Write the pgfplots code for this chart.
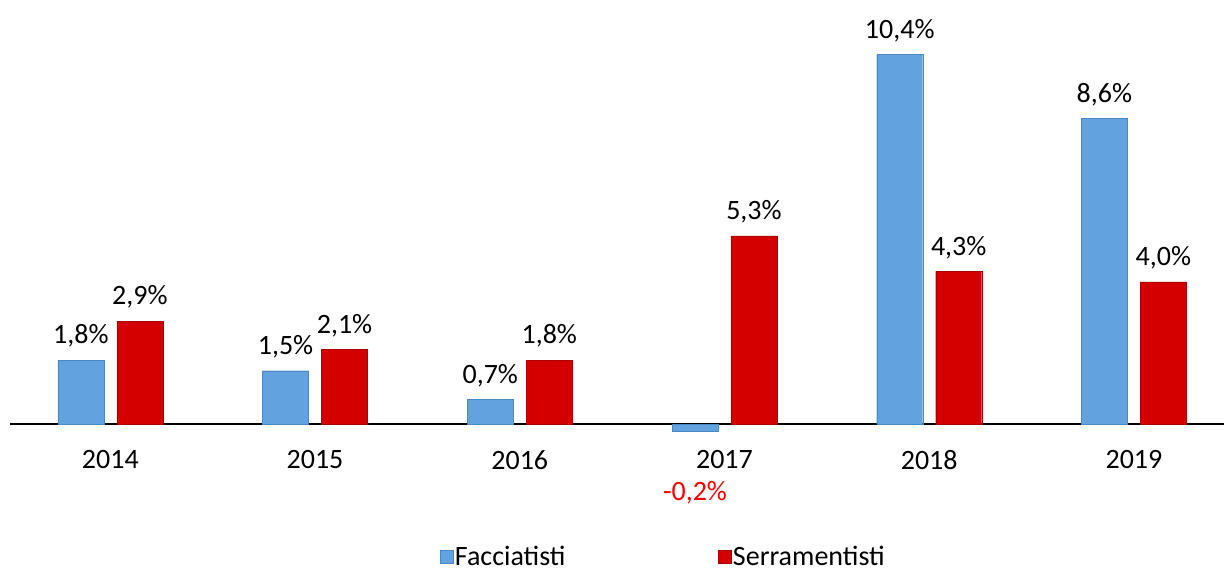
\documentclass[border=0pt]{standalone}
\usepackage{pgfplots}
\pgfplotsset{compat=1.18}
\usepackage{fontspec}
\setmainfont{Carlito}
\definecolor{facc}{RGB}{98,163,222}
\definecolor{faccd}{RGB}{75,135,195}
\definecolor{serr}{RGB}{212,0,0}
\definecolor{serrd}{RGB}{170,0,0}
\newcommand{\bigf}{\fontsize{28bp}{34bp}\selectfont}
\begin{document}
\begin{tikzpicture}
\begin{axis}[
  at={(0,0)}, anchor=south west,
  scale only axis,
  width=1214bp, height=459.5bp,
  xmin=-0.49, xmax=5.44,
  ymin=-1, ymax=11.94,
  axis x line=middle, axis y line=none,
  x axis line style={black, line width=1.2bp, -},
  xtick={0,1,2,3,4,5},
  xticklabels={2014,2015,2016,2017,2018,2019},
  major tick length=0pt,
  xticklabel style={font=\bigf, anchor=north, yshift=-23bp},
  ybar, bar width=46bp,
  /pgf/number format/assume math mode=true,
  nodes near coords={\pgfmathprintnumber[fixed,fixed zerofill,precision=1,use comma]{\pgfplotspointmeta}\%},
  every node near coord/.append style={font=\bigf, black, yshift=9bp},
  legend style={draw=none, fill=none, font=\bigf, at={(0.538,-0.211)}, anchor=center,
    legend columns=2, /tikz/every even column/.append style={column sep=150bp}},
  legend image code/.code={\fill[#1] (0bp,-6.5bp) rectangle (13bp,6.5bp);},
  clip=false,
]
\addplot[fill=facc, draw=faccd, bar shift=-29.5bp] coordinates {(0,1.8) (1,1.5) (2,0.7) (4,10.4) (5,8.6)};
\addlegendentry{Facciatisti}
\addplot[fill=serr, draw=serrd, bar shift=29.5bp] coordinates {(0,2.9) (1,2.1) (2,1.8) (3,5.3) (4,4.3) (5,4.0)};
\addlegendentry{Serramentisti}
\addplot[fill=facc, draw=faccd, bar shift=-29.5bp, forget plot,
  every node near coord/.append style={red, yshift=-56bp}] coordinates {(3,-0.2)};
\end{axis}
\pgfresetboundingbox
\path (-10bp,-110.5bp) rectangle (1214bp,459.5bp);
\end{tikzpicture}
\end{document}
